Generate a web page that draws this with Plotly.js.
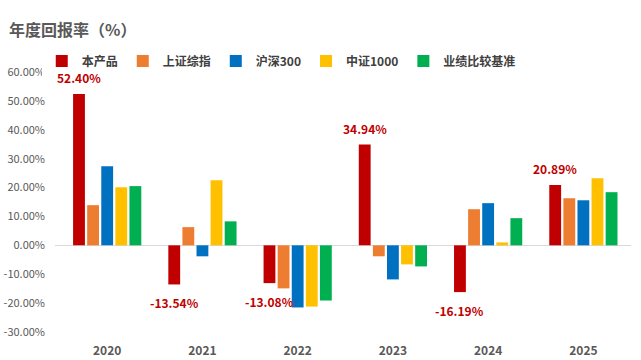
<!DOCTYPE html>
<html>
<head>
<meta charset="utf-8">
<script src="https://cdn.plot.ly/plotly-3.0.1.min.js"></script>
<style>
html,body{margin:0;padding:0;background:#fff;}
#chart{width:641px;height:360px;}
</style>
</head>
<body>
<div id="chart"></div>
<script>
var years = ['2020', '2021', '2022', '2023', '2024', '2025'];
var seriesNames = ['本产品', '上证综指', '沪深300', '中证1000', '业绩比较基准'];
var product = [52.40, -13.54, -13.08, 34.94, -16.19, 20.89];
var sse = [13.9, 6.3, -14.9, -3.8, 12.5, 16.3];
var csi300 = [27.4, -3.8, -21.5, -11.8, 14.6, 15.6];
var csi1000 = [20.1, 22.5, -21.2, -6.6, 1.0, 23.2];
var benchmark = [20.5, 8.3, -19.1, -7.3, 9.4, 18.4];
var yTicks = [60, 50, 40, 30, 20, 10, 0, -10, -20, -30];

var colors = ['#C00000', '#ED7D31', '#0070C0', '#FFC000', '#00B050'];
var allSeries = [product, sse, csi300, csi1000, benchmark];
var font = 'Noto Sans CJK SC, Microsoft YaHei, sans-serif';

var traces = allSeries.map(function (vals, i) {
  return {
    type: 'bar',
    name: seriesNames[i],
    x: years,
    y: vals,
    marker: {color: colors[i]},
    hoverinfo: 'x+y+name'
  };
});

var bargap = 0.26;
var slot = (1 - bargap) / seriesNames.length;
var annotations = product.map(function (v, i) {
  return {
    x: i - (1 - bargap) / 2 + slot / 2,
    y: v,
    xref: 'x', yref: 'y',
    text: v.toFixed(2) + '%',
    showarrow: false,
    yshift: v >= 0 ? 16 : -18,
    font: {family: font, size: 12, color: '#C00000', weight: 'bold'}
  };
});

var layout = {
  width: 641,
  height: 360,
  margin: {l: 55, r: 10, t: 72, b: 28},
  paper_bgcolor: '#ffffff',
  plot_bgcolor: '#ffffff',
  title: {
    text: '年度回报率（%）',
    x: 0, xref: 'paper', xanchor: 'left',
    y: 0.93, yref: 'container',
    pad: {l: -46},
    font: {family: font, size: 16, color: '#595959', weight: 'bold'}
  },
  barmode: 'group',
  bargap: bargap,
  bargroupgap: 0.16,
  showlegend: true,
  legend: {
    orientation: 'h',
    x: -0.023, xanchor: 'left',
    y: 1.042, yanchor: 'middle',
    font: {family: font, size: 12, color: '#404040', weight: 'bold'},
    traceorder: 'normal',
    itemwidth: 30
  },
  xaxis: {
    type: 'category',
    showgrid: false,
    showline: false,
    zeroline: false,
    ticks: '',
    tickfont: {family: font, size: 12, color: '#595959', weight: 'bold'},
    ticklabelstandoff: 10,
    fixedrange: true
  },
  yaxis: {
    range: [-30, 60],
    tickvals: yTicks,
    ticktext: yTicks.map(function (t) { return t.toFixed(2) + '%'; }),
    showgrid: false,
    showline: false,
    zeroline: true,
    zerolinecolor: '#D9D9D9',
    zerolinewidth: 1,
    ticks: '',
    tickfont: {family: font, size: 11, color: '#595959'},
    ticklabelstandoff: 9,
    fixedrange: true
  },
  annotations: annotations
};

Plotly.newPlot('chart', traces, layout, {displayModeBar: false, staticPlot: true});
</script>
</body>
</html>
